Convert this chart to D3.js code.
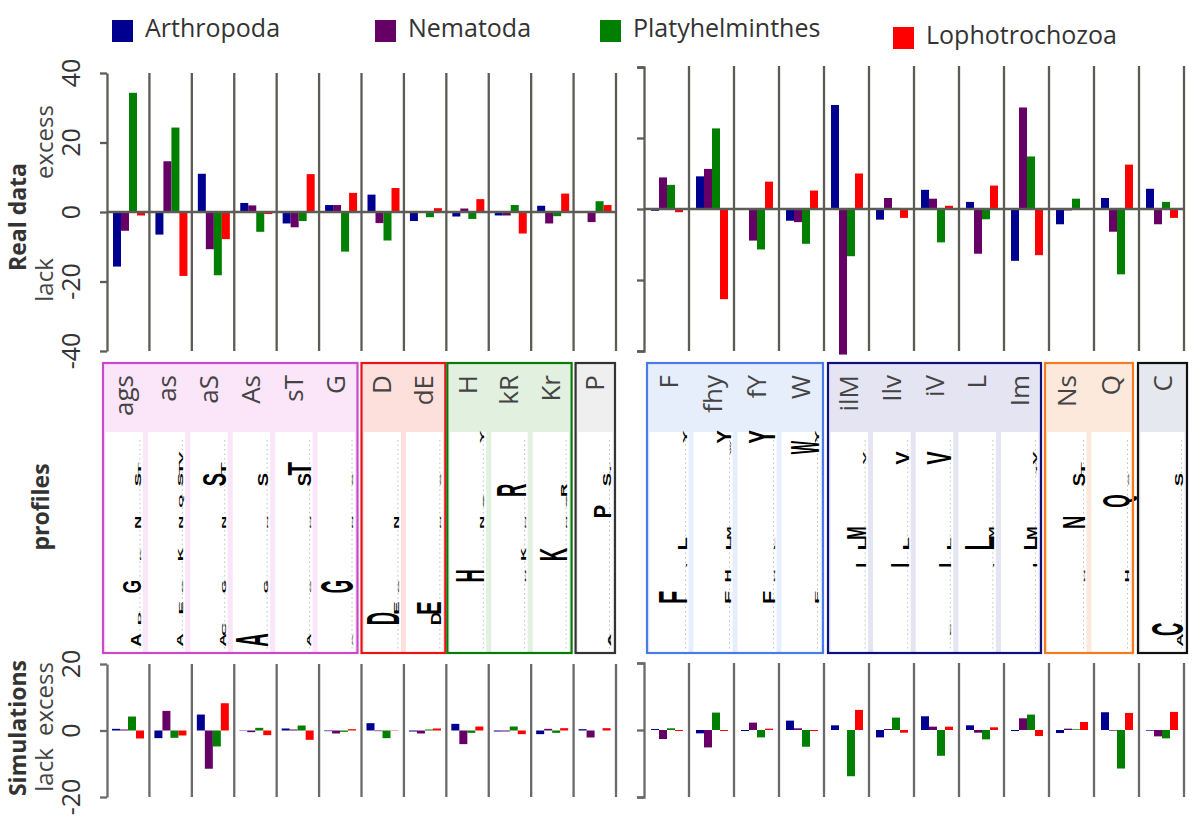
<!DOCTYPE html>
<html><head><meta charset="utf-8">
<script src="https://cdn.jsdelivr.net/npm/d3@7"></script>
<style>html,body{margin:0;padding:0;background:#fff;} svg{display:block;}</style>
</head><body>
<svg id="chart" width="1200" height="834"></svg>
<script>
// ---------------- DATA ----------------
const seriesNames = ["Arthropoda", "Nematoda", "Platyhelminthes", "Lophotrochozoa"];
const catsLeft  = ["ags", "as", "aS", "As", "sT", "G", "D", "dE", "H", "kR", "Kr", "P"];
const catsRight = ["F", "fhy", "fY", "W", "ilM", "Ilv", "iV", "L", "Im", "Ns", "Q", "C"];
const realTicks = [-40, -20, 0, 20, 40];
const simTicks  = [-20, 0, 20];

// Real data, one row per series (Arthropoda, Nematoda, Platyhelminthes, Lophotrochozoa)
const realLeft = [
  [-15.7, -6.5, 11, 2.6, -3.3, 2, 5, -2.6, -1.3, -1, 1.8, 0],
  [-5.4, 14.6, -10.7, 1.9, -4.4, 2, -3.2, 0, 1, -1, -3.3, -2.9],
  [34.3, 24.3, -18.2, -5.7, -2.6, -11.4, -8.2, -1.5, -2, 2, -1.2, 3.1],
  [-1, -18.4, -7.8, -0.6, 10.9, 5.5, 6.9, 1.1, 3.7, -6.2, 5.3, 2]
];
const realRight = [
  [-0.5, 9.2, 0, -3.3, 29.3, -3, 5.4, 2, -14.6, -4.3, 3.1, 5.7],
  [8.9, 11.3, -8.9, -3.7, -41, 3.1, 2.9, -12.6, 28.6, -0.4, -6.4, -4.3],
  [6.8, 22.7, -11.4, -9.8, -13.3, 0.3, -9.4, -2.9, 14.8, 2.9, -18.4, 2],
  [-0.9, -25.4, 7.7, 5.2, 10, -2.5, 0.9, 6.6, -13, 0, 12.5, -2.5]
];
// Simulations
const simLeft = [
  [0.5, -2.3, 4.8, -0.1, 0.6, -0.2, 2.2, -0.3, 2, -0.3, -1.1, 0.4],
  [0.3, 5.9, -11.5, -0.5, 0.3, -0.9, -0.2, -0.9, -4.1, -0.3, 0.5, -2.1],
  [4.2, -2.2, -4.8, 0.8, 1.5, -0.4, -2.3, 0.3, -0.7, 1.2, -0.7, 0],
  [-2.4, -1.5, 8.2, -1.4, -2.8, 0.4, 0.1, 0.6, 1.2, -1.1, 0.7, 0.7]
];
const simRight = [
  [0.3, -1, -0.3, 2.8, 1.4, -2.2, 4.1, 1.4, -0.3, -0.9, 5.3, -0.2],
  [-2.7, -5.2, 2.2, 0.5, 0, 0.3, 1, -0.8, 3.5, 0.4, -0.2, -1.9],
  [0.5, 5.2, -2.2, -5, -13.8, 3.7, -7.7, -2.8, 4.6, 0.2, -11.5, -2.5],
  [-0.3, -0.3, 0.4, -0.3, 6, -0.8, 1, 0.8, -1.8, 2.4, 5.1, 5.4]
];

// Profile groups (number of columns per box)
const groupsLeft  = [6, 2, 3, 1];
const groupsRight = [4, 5, 2, 1];
// Amino-acid order of the (rotated) sequence logos, bottom to top
const aminoAcids = "ACDEFGHIKLMNPQRSTVWY".split("");
// Logo letters per column: [letter, relative height]
const profileLeft = [
  [["A",.30],["G",.55],["N",.2],["S",.2],["D",.06],["K",.05],["T",.06]],
  [["A",.2],["E",.1],["K",.15],["N",.12],["Q",.12],["S",.15],["T",.12],["V",.1],["G",.05]],
  [["A",.2],["C",.1],["G",.1],["N",.1],["S",.72],["T",.15]],
  [["A",1.0],["S",.3],["G",.1],["N",.05]],
  [["A",.1],["S",.4],["T",.72],["N",.05],["G",.05]],
  [["G",1.0],["N",.05],["A",.05],["S",.05]],
  [["D",1.0],["E",.15],["N",.15],["G",.05]],
  [["D",.3],["E",.78],["N",.05],["S",.05]],
  [["H",.9],["N",.12],["Y",.1],["Q",.05]],
  [["R",.95],["K",.17],["N",.05],["H",.05]],
  [["K",.85],["R",.18],["N",.05],["Q",.05]],
  [["P",.55],["S",.25],["A",.1],["T",.05]]
];
const profileRight = [
  [["F",.85],["L",.25],["Y",.1],["I",.05]],
  [["F",.2],["H",.2],["L",.15],["Y",.4],["W",.05],["M",.1]],
  [["F",.35],["Y",.75],["L",.05],["H",.05]],
  [["W",.85],["F",.1],["Y",.1]],
  [["M",.6],["L",.25],["I",.3],["V",.08]],
  [["V",.4],["L",.2],["I",.55]],
  [["V",.75],["I",.35],["L",.1],["C",.05]],
  [["L",.9],["M",.15],["I",.05]],
  [["L",.4],["M",.3],["I",.1],["V",.1],["T",.05]],
  [["N",.65],["S",.35],["T",.1],["H",.05]],
  [["Q",.75],["H",.1],["S",.05]],
  [["C",.8],["A",.15],["S",.2]]
];

// ---------------- STYLE ----------------
const colors = ["#000090", "#660066", "#007f00", "#ff0000"];
const lineCol = "#5d5b55";
const simLineCol = "#6a6a6a";
const txtCol = "#333";
const boxStrokeLeft  = ["#c94ac9", "#e8141a", "#0a7a0a", "#333333"];
const boxFillLeft    = ["#fbe5f8", "#fde0dc", "#e2f0e0", "#efefef"];
const boxInsetLeft   = [[-4, -4], [0, -1], [1, -2], [2, -1]];
const boxStrokeRight = ["#4a7bea", "#10107a", "#f57b22", "#111111"];
const boxFillRight   = ["#e6eefc", "#e4e4f2", "#fde9dc", "#e6e8ef"];
const boxInsetRight  = [[3, -1], [4, -8], [-4, -6], [-1, 3]];

const svg = d3.select("#chart");

const xL = d3.scaleBand().domain(catsLeft).range([107, 616]);
const xR = d3.scaleBand().domain(catsRight).range([644, 1184]);
const yRealL = d3.scaleLinear().domain([-40, 40]).range([351, 73]);
const yRealR = d3.scaleLinear().domain([-40, 40]).range([351, 67]);
const ySimL  = d3.scaleLinear().domain([-20, 20]).range([797, 664]);
const ySimR  = d3.scaleLinear().domain([-20, 20]).range([797, 663]);

function rotText(x, y, str, opts) {
  const t = svg.append("text")
    .attr("transform", `translate(${x},${y}) rotate(-90)`)
    .attr("text-anchor", opts.anchor || "middle")
    .attr("font-family", opts.family || "'Open Sans', sans-serif")
    .attr("font-size", opts.size)
    .attr("font-weight", opts.weight || "normal")
    .attr("fill", opts.fill || txtCol)
    .text(str);
  return t;
}

function drawPanel(x, y, data, opts) {
  const g = svg.append("g");
  const bw = x.bandwidth();
  const sub = d3.scaleBand().domain(seriesNames).range([opts.off, opts.off + 32]);
  data.forEach((row, si) => {
    g.selectAll(null).data(row).enter().append("rect")
      .attr("x", (d, i) => x(x.domain()[i]) + sub(seriesNames[si]))
      .attr("width", sub.bandwidth())
      .attr("y", d => Math.min(y(d), y(0)))
      .attr("height", d => Math.abs(y(d) - y(0)))
      .attr("fill", colors[si]);
  });
  g.selectAll(null).data(x.domain()).enter().append("line")
    .attr("x1", d => x(d) + bw).attr("x2", d => x(d) + bw)
    .attr("y1", opts.top).attr("y2", y.range()[0])
    .attr("stroke", opts.lineCol).attr("stroke-width", 2.3);
  if (opts.zero) {
    g.append("line").attr("x1", x.range()[0]).attr("x2", x.range()[1])
      .attr("y1", y(0)).attr("y2", y(0))
      .attr("stroke", opts.lineCol).attr("stroke-width", 2.3);
  }
  const ax = d3.axisLeft(y).tickValues(opts.ticks).tickFormat("").tickSize(7).tickSizeOuter(opts.bracket ? 7 : 0);
  const ag = svg.append("g").attr("transform", `translate(${x.range()[0]},0)`).call(ax);
  ag.selectAll("path,line").attr("stroke", opts.lineCol).attr("stroke-width", 2.3);
  if (opts.labels) {
    opts.ticks.forEach(t => rotText(80, y(t), String(t), {size: 25, fill: "#333"}));
  }
}

drawPanel(xL, yRealL, realLeft, {off: 6, top: 73, lineCol: lineCol, zero: true, ticks: realTicks, labels: true, bracket: false});
drawPanel(xR, yRealR, realRight, {off: 7, top: 66, lineCol: lineCol, zero: true, ticks: realTicks, labels: false, bracket: true});
drawPanel(xL, ySimL, simLeft, {off: 5, top: 664, lineCol: simLineCol, zero: false, ticks: simTicks, labels: true, bracket: false});
drawPanel(xR, ySimR, simRight, {off: 7, top: 663, lineCol: simLineCol, zero: false, ticks: simTicks, labels: false, bracket: true});

// side labels
rotText(26, 217, "Real data", {size: 23, weight: "bold", fill: "#333"});
rotText(53, 142, "excess", {size: 24, fill: "#444"});
rotText(53, 280, "lack", {size: 24, fill: "#444"});
rotText(49, 507, "profiles", {size: 23, weight: "bold", fill: "#333"});
rotText(26, 728, "Simulations", {size: 23, weight: "bold", fill: "#333"});
rotText(53, 699, "excess", {size: 24, fill: "#444"});
rotText(53, 770, "lack", {size: 24, fill: "#444"});

// ---------------- PROFILES ----------------
const yAA = d3.scaleBand().domain(aminoAcids).range([645.4, 431.4]);
const boxTop = 363, boxBot = 653, headBot = 430;

function drawLetter(g, letter, xr, yc, h, slot) {
  const fs = 20;
  const t = g.append("text").text(letter)
    .attr("font-family", "'Liberation Sans', Arial, sans-serif")
    .attr("font-weight", "bold").attr("font-size", fs)
    .attr("text-anchor", "middle").attr("fill", "#000");
  const adv = t.node().getComputedTextLength();
  const s = letter === "I" ? slot * 0.35 : slot;
  const sx = s / adv, sy = h / (0.716 * fs);
  t.attr("transform", `translate(${xr},${yc}) rotate(-90) scale(${sx},${sy})`);
}

function drawProfiles(x, cats, groups, profiles, strokes, fills, insets) {
  const bw = x.bandwidth();
  let k = 0;
  groups.forEach((n, gi) => {
    const g = svg.append("g");
    const first = cats[k], last = cats[k + n - 1];
    const x0 = x(first) + insets[gi][0], x1 = x(last) + bw + insets[gi][1];
    const cw = (x1 - x0) / n;
    g.append("rect").attr("x", x0).attr("y", boxTop).attr("width", x1 - x0).attr("height", boxBot - boxTop)
      .attr("fill", fills[gi]);
    for (let j = 0; j < n; j++) {
      const ci = k + j;
      const cx0 = x0 + j * cw + 2.5, cx1 = x0 + (j + 1) * cw - 2.5;
      g.append("rect").attr("x", cx0).attr("y", headBot + 2).attr("width", cx1 - cx0).attr("height", boxBot - headBot - 3)
        .attr("fill", "#fff");
      g.append("line").attr("x1", cx1 - 3).attr("x2", cx1 - 3).attr("y1", headBot + 10).attr("y2", boxBot - 4)
        .attr("stroke", "#c0c0c0").attr("stroke-width", 1).attr("stroke-dasharray", "1.5,3");
      profiles[ci].forEach(([L, v]) => {
        drawLetter(g, L, cx1 - 2, yAA(L) + yAA.bandwidth() / 2, v * (cx1 - cx0 - 4), yAA.bandwidth() * 1.25);
      });
      g.append("text")
        .attr("transform", `translate(${(cx0 + cx1) / 2 + 9},375) rotate(-90)`)
        .attr("text-anchor", "end")
        .attr("font-family", "'Open Sans', sans-serif").attr("font-size", 26)
        .attr("fill", "#444").text(cats[ci]);
    }
    g.append("rect").attr("x", x0).attr("y", boxTop).attr("width", x1 - x0).attr("height", boxBot - boxTop)
      .attr("fill", "none").attr("stroke", strokes[gi]).attr("stroke-width", 2.2);
    k += n;
  });
}
drawProfiles(xL, catsLeft, groupsLeft, profileLeft, boxStrokeLeft, boxFillLeft, boxInsetLeft);
drawProfiles(xR, catsRight, groupsRight, profileRight, boxStrokeRight, boxFillRight, boxInsetRight);

// ---------------- LEGEND ----------------
const legendX = [112, 375, 600, 893];
const legendY = [20, 20, 20, 27];
const leg = svg.append("g");
seriesNames.forEach((s, i) => {
  leg.append("rect").attr("x", legendX[i]).attr("y", legendY[i]).attr("width", 21).attr("height", 22).attr("fill", colors[i]);
  leg.append("text").attr("x", legendX[i] + 33).attr("y", legendY[i] + 17)
    .attr("font-family", "'Open Sans', sans-serif").attr("font-size", 25).attr("fill", "#333").text(s);
});
</script>
</body></html>
